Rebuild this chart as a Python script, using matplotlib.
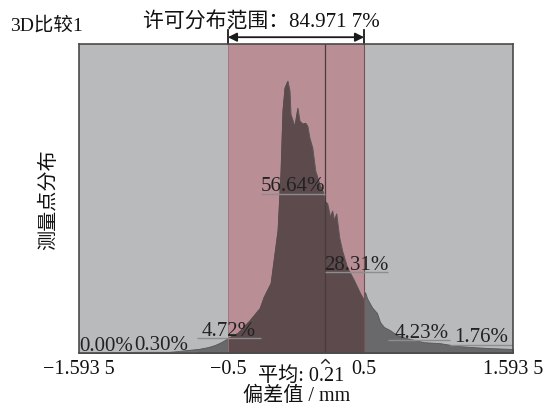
import matplotlib
matplotlib.use('Agg')
import matplotlib.pyplot as plt
import matplotlib.transforms as mtransforms
from matplotlib.path import Path

plt.rcParams['font.family'] = ['Liberation Serif', 'Noto Sans CJK SC', 'DejaVu Sans']

# distribution outline (deviation in mm, relative height)
dev_x = [-1.5935, -1.18, -0.94, -0.79, -0.72, -0.646, -0.595, -0.55, -0.5,
         -0.427, -0.339, -0.296, -0.266, -0.237, -0.186, -0.135, -0.113, -0.099,
         -0.084, -0.062, -0.047, -0.040, -0.011, 0.011, 0.026, 0.047, 0.069,
         0.084, 0.099, 0.120, 0.142, 0.172, 0.201, 0.208, 0.230, 0.252, 0.266,
         0.281, 0.296, 0.318, 0.339, 0.376, 0.427, 0.471, 0.5, 0.507, 0.522,
         0.558, 0.595, 0.617, 0.646, 0.69, 0.74, 0.814, 0.938, 1.055, 1.18,
         1.30, 1.42, 1.5935]
dev_h = [0.0, 0.2, 0.3, 1.0, 1.3, 1.9, 2.6, 3.5, 4.8,
         6.5, 10.6, 12.9, 14.5, 18.1, 22.6, 39.7, 59.0, 78.4,
         85.8, 88.1, 84.8, 77.4, 73.5, 79.4, 75.2, 74.2, 74.5,
         73.5, 69.7, 66.5, 59.0, 54.8, 51.9, 49.4, 48.4, 43.9, 46.1,
         42.9, 45.2, 37.4, 33.2, 27.7, 23.5, 19.4, 17.1, 19.7, 17.7,
         14.8, 12.9, 10.0, 8.4, 7.4, 5.8, 4.8, 3.5, 3.2, 2.3,
         1.9, 1.6, 1.3]

# bands and their percentages
band_edges = [-1.5935, -1.19, -0.725, -0.259, 0.21, 0.673, 1.13, 1.5935]
band_level = [0.0, 0.3, 4.8, 51.6, 26.1, 4.2, 2.6]
band_text = ['0.00%', '0.30%', '4.72%', '56.64%', '28.31%', '4.23%', '1.76%']
text_dx = [0.005, 0.005, 0.03, 0.0, 0.0, 0.05, 0.03]

x_min, x_max = -1.5935, 1.5935
tol_lo, tol_hi = -0.5, 0.5
mean_dev = 0.21
tick_pos = [-1.5935, -0.5, 0.5, 1.5935]
tick_lbl = ['\u22121.593 5', '\u22120.5', '0.5', '1.593 5']

fig = plt.figure(figsize=(5.53, 4.13), dpi=100)
ax = fig.add_axes([79 / 553, 1 - 353 / 413, 434 / 553, 309 / 413])
ax.set_facecolor('#b9babc')
ax.set_xlim(x_min, x_max)
ax.set_ylim(0, 100)

ax.axvspan(tol_lo, tol_hi, facecolor='#b98f95', edgecolor='none', zorder=1)
ax.fill_between(dev_x, dev_h, 0, facecolor='#69696b', edgecolor='#555557',
                linewidth=0.6, zorder=2)
inside = [tol_lo <= v <= tol_hi for v in dev_x]
ax.fill_between(dev_x, dev_h, 0, where=inside, facecolor='#5c4a4d',
                edgecolor='none', zorder=3)
ax.axvline(tol_lo, color='#9a747a', lw=0.6, zorder=3)
ax.axvline(tol_hi, color='#7a4f56', lw=0.8, zorder=3)
ax.axvline(mean_dev, color='#4a3a3d', lw=0.9, zorder=4)

for i, t in enumerate(band_text):
    x0, x1 = band_edges[i], band_edges[i + 1]
    lv = band_level[i]
    ax.plot([x0, x1], [lv, lv], color='#8d8d8f', lw=1.0, zorder=5,
            solid_capstyle='butt')
    ax.text(x0 + text_dx[i], lv + 0.8, t, fontsize=15, color='#222222',
            ha='left', va='baseline', zorder=6)

ax.set_xticks(tick_pos)
ax.set_xticklabels(tick_lbl, fontsize=14.5, color='#111111')
ax.set_yticks([])
ax.tick_params(axis='x', length=0, pad=5)
for s in ax.spines.values():
    s.set_color('#4a4a4a')
    s.set_linewidth(1.2)
    s.set_zorder(7)

# tolerance range arrow above the axes
trans = mtransforms.blended_transform_factory(ax.transData, ax.transAxes)
ax.annotate('', xy=(tol_hi, 1.022), xytext=(tol_lo, 1.022),
            xycoords=trans, textcoords=trans,
            arrowprops=dict(arrowstyle='<|-|>', color='#1a1a1a', lw=1.3,
                            shrinkA=0, shrinkB=0, mutation_scale=13),
            annotation_clip=False)
for xe in (tol_lo, tol_hi):
    ax.plot([xe, xe], [1.0, 1.045], transform=trans, color='#1a1a1a',
            lw=1.3, clip_on=False)

# mean marker (small hat) under the axis
hat = Path([(-1.0, -0.5), (0.0, 0.5), (1.0, -0.5)],
           [Path.MOVETO, Path.LINETO, Path.LINETO])
ax.plot([mean_dev], [-0.027], transform=trans, marker=hat, ms=6, mew=1.0,
        mec='#222222', mfc='none', ls='none', clip_on=False)

fig.text(143 / 553, 1 - 28 / 413, '许可分布范围：84.971 7%', fontsize=15,
         ha='left', va='baseline', color='#111111')
fig.text(10 / 553, 1 - 31 / 413, '3D比较1', fontsize=14, ha='left',
         va='baseline', color='#111111')
fig.text(258 / 553, 1 - 376 / 413, '平均: 0.21', fontsize=14.5, ha='left',
         va='center', color='#111111')
fig.text(297 / 553, 1 - 396 / 413, '偏差值 / mm', fontsize=14.5, ha='center',
         va='center', color='#111111')
fig.text(50 / 553, 1 - 200 / 413, '测量点分布', fontsize=14.5, rotation=90,
         ha='center', va='center', color='#111111')

fig.savefig('out.png', dpi=100)
